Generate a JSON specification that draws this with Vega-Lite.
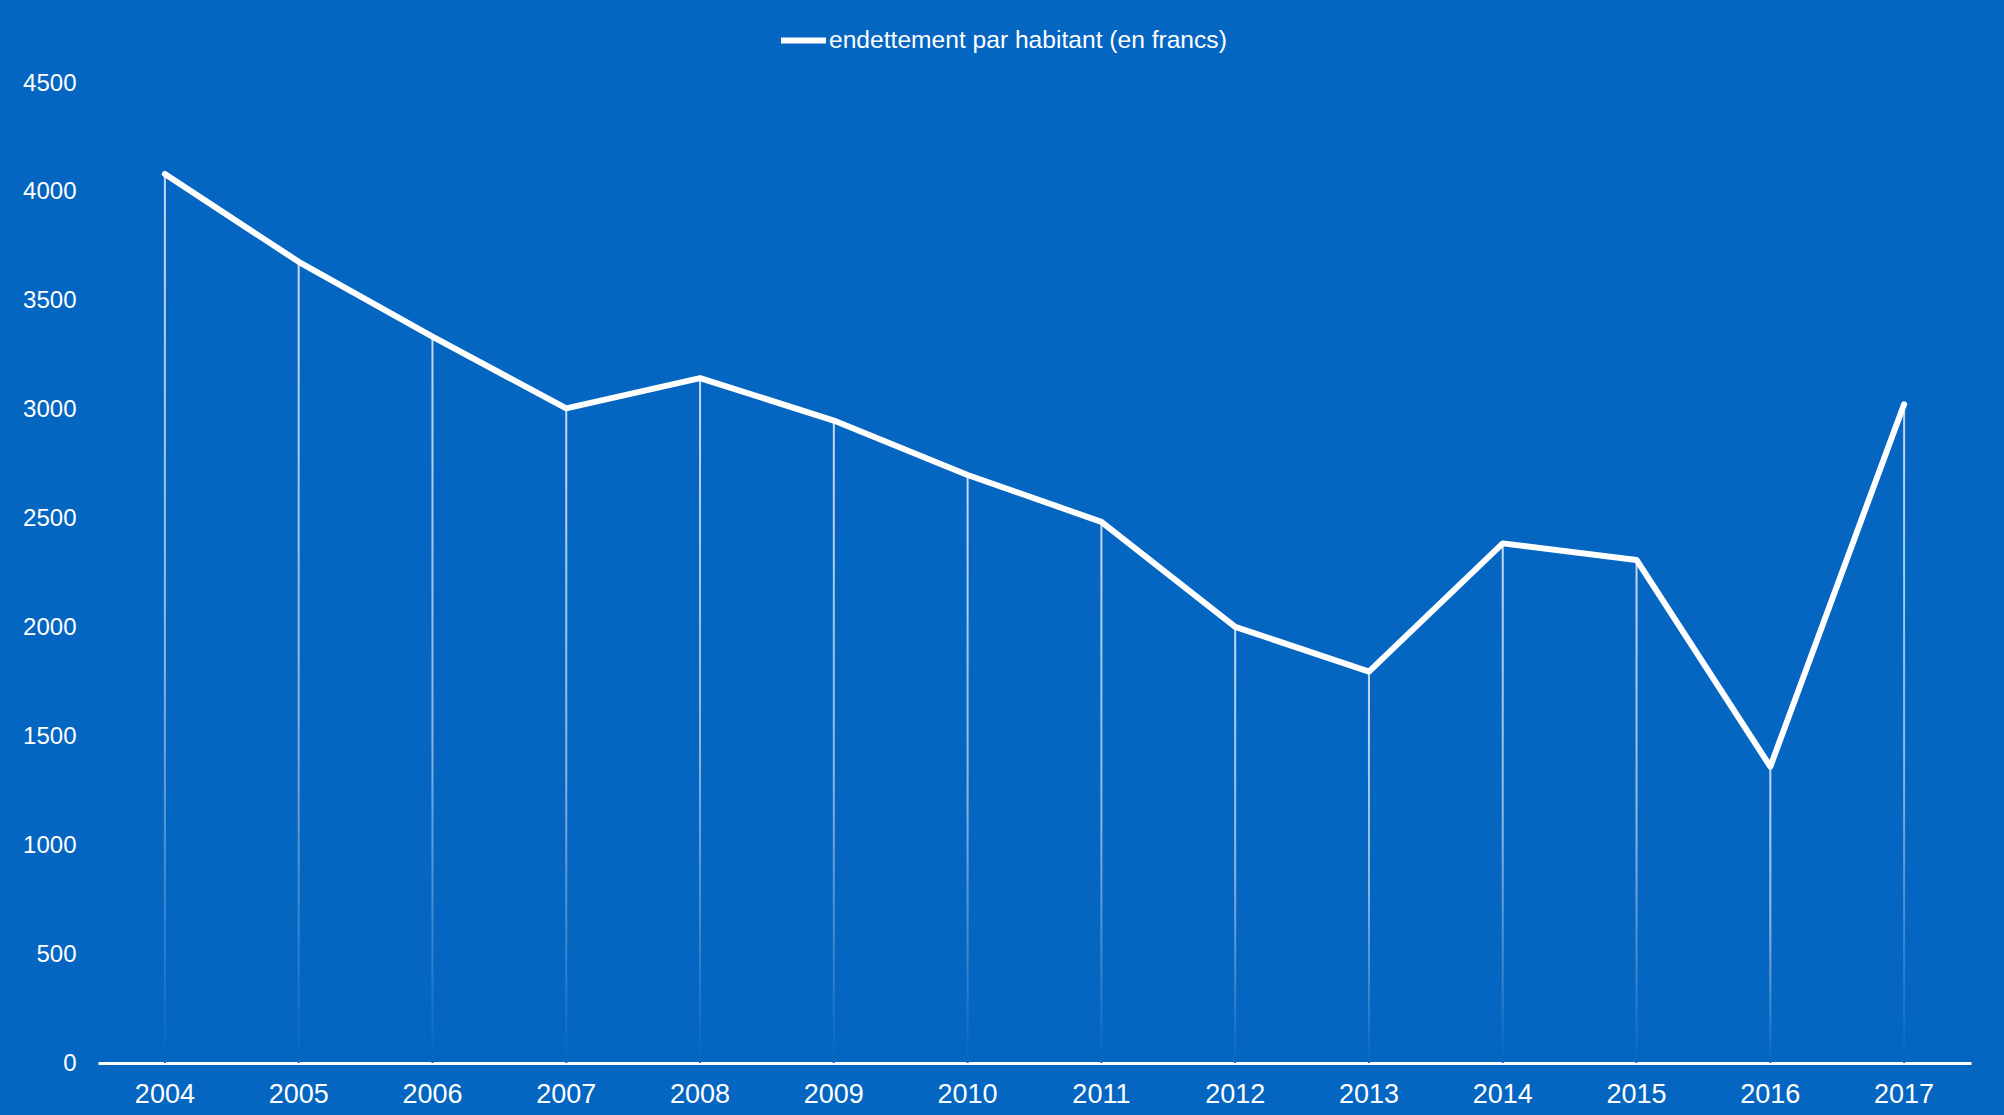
{
  "$schema": "https://vega.github.io/schema/vega-lite/v6.json",
  "autosize": "none",
  "width": 1873,
  "height": 980,
  "padding": {"left": 98, "top": 83, "right": 33, "bottom": 52},
  "background": "#0466C1",
  "config": {
    "view": {"stroke": null},
    "font": "Liberation Sans",
    "axis": {"labelFont": "Liberation Sans", "labelColor": "#ffffff", "grid": false, "ticks": false, "title": null}
  },
  "data": {
    "values": [
      {"annee": "2004", "valeur": 4082},
      {"annee": "2005", "valeur": 3679},
      {"annee": "2006", "valeur": 3335},
      {"annee": "2007", "valeur": 3006},
      {"annee": "2008", "valeur": 3145},
      {"annee": "2009", "valeur": 2950},
      {"annee": "2010", "valeur": 2700},
      {"annee": "2011", "valeur": 2485},
      {"annee": "2012", "valeur": 2003},
      {"annee": "2013", "valeur": 1797},
      {"annee": "2014", "valeur": 2386},
      {"annee": "2015", "valeur": 2310},
      {"annee": "2016", "valeur": 1361},
      {"annee": "2017", "valeur": 3025}
    ]
  },
  "encoding": {
    "x": {
      "field": "annee", "type": "ordinal",
      "scale": {"type": "band", "paddingInner": 0, "paddingOuter": 0},
      "axis": {"labelAngle": 0, "labelFontSize": 27, "labelPadding": 18, "domain": true, "domainColor": "#ffffff", "domainWidth": 3}
    },
    "y": {
      "field": "valeur", "type": "quantitative",
      "scale": {"domain": [0, 4500], "nice": false},
      "axis": {"values": [0, 500, 1000, 1500, 2000, 2500, 3000, 3500, 4000, 4500], "format": "d", "labelFontSize": 24, "labelPadding": 22, "domain": false}
    }
  },
  "layer": [
    {
      "mark": {
        "type": "bar",
        "size": 2,
        "color": {
          "gradient": "linear", "x1": 0, "y1": 0, "x2": 0, "y2": 1,
          "stops": [
            {"offset": 0, "color": "#c4d9f0"},
            {"offset": 0.55, "color": "#8db4e0"},
            {"offset": 1, "color": "#0466C1"}
          ]
        }
      },
      "encoding": {
        "y2": {"datum": 0}
      }
    },
    {
      "mark": {"type": "line", "strokeWidth": 6, "strokeCap": "round", "strokeJoin": "round"},
      "encoding": {
        "color": {
          "datum": "endettement par habitant (en francs)",
          "scale": {"range": ["#ffffff"]},
          "legend": {
            "orient": "none",
            "legendX": 680,
            "legendY": -68,
            "title": null,
            "symbolType": "stroke",
            "symbolSize": 2025,
            "symbolStrokeWidth": 6,
            "labelFont": "Liberation Sans",
            "labelFontSize": 24.6,
            "labelColor": "#ffffff",
            "labelOffset": 0,
            "labelLimit": 0
          }
        }
      }
    }
  ]
}
